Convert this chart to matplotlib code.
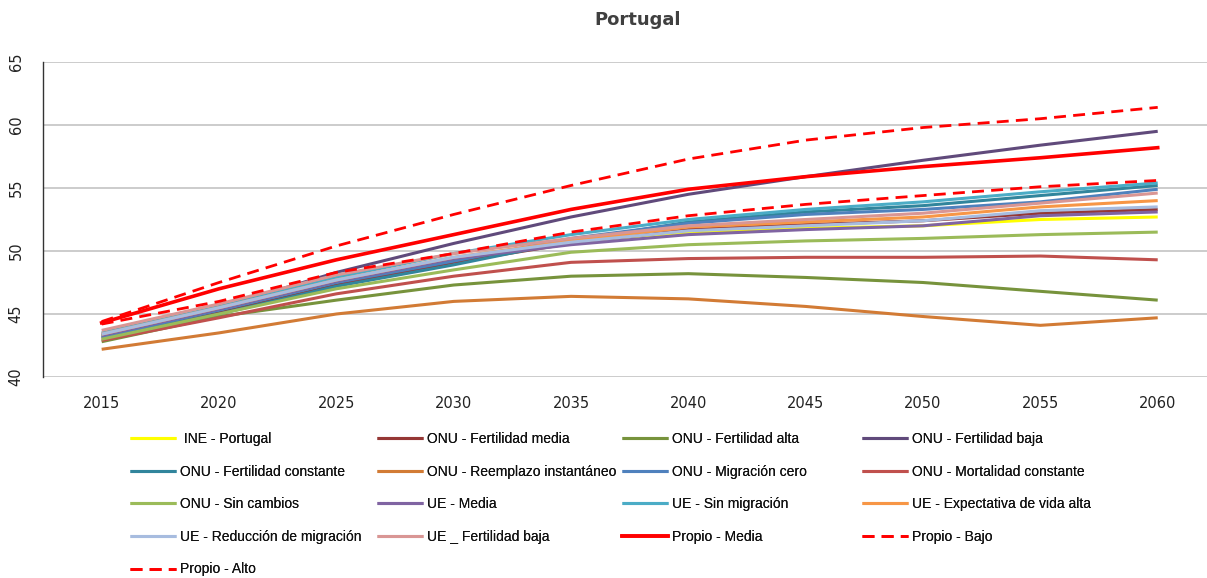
import matplotlib
matplotlib.use("Agg")
import matplotlib.pyplot as plt

years = ["2015", "2020", "2025", "2030", "2035", "2040", "2045", "2050", "2055", "2060"]

ine_portugal         = [43.3, 45.3, 47.6, 49.4, 50.7, 51.5, 51.8, 52.0, 52.5, 52.7]
onu_fert_media       = [43.1, 45.1, 47.3, 49.1, 50.6, 51.7, 52.1, 52.4, 53.0, 53.3]
onu_fert_alta        = [42.8, 44.8, 46.1, 47.3, 48.0, 48.2, 47.9, 47.5, 46.8, 46.1]
onu_fert_baja        = [43.4, 45.5, 48.3, 50.6, 52.7, 54.5, 55.9, 57.2, 58.4, 59.5]
onu_fert_constante   = [43.1, 45.0, 47.2, 48.9, 50.8, 52.3, 53.1, 53.6, 54.4, 55.2]
onu_reemplazo        = [42.2, 43.5, 45.0, 46.0, 46.4, 46.2, 45.6, 44.8, 44.1, 44.7]
onu_migracion_cero   = [43.2, 45.3, 47.5, 49.2, 51.0, 52.2, 52.9, 53.3, 53.9, 54.9]
onu_mortalidad_const = [42.9, 44.7, 46.6, 48.0, 49.1, 49.4, 49.5, 49.5, 49.6, 49.3]
onu_sin_cambios      = [43.0, 45.0, 47.0, 48.5, 49.9, 50.5, 50.8, 51.0, 51.3, 51.5]
ue_media             = [43.3, 45.4, 47.6, 49.4, 50.5, 51.3, 51.7, 52.0, 52.8, 53.1]
ue_sin_migracion     = [43.5, 45.6, 47.9, 49.8, 51.3, 52.5, 53.3, 53.9, 54.7, 55.4]
ue_expectativa_alta  = [43.4, 45.5, 47.7, 49.5, 50.8, 51.9, 52.3, 52.7, 53.5, 54.0]
ue_reduccion_migr    = [43.4, 45.5, 47.7, 49.5, 50.7, 51.6, 52.0, 52.4, 53.2, 53.5]
ue_fert_baja         = [43.7, 45.8, 48.1, 49.8, 51.0, 52.0, 52.5, 53.0, 53.8, 54.6]
propio_media         = [44.3, 47.0, 49.3, 51.3, 53.3, 54.9, 55.9, 56.7, 57.4, 58.2]
propio_bajo          = [44.2, 46.0, 48.3, 49.8, 51.5, 52.8, 53.7, 54.4, 55.1, 55.6]
propio_alto          = [44.4, 47.5, 50.4, 52.9, 55.2, 57.3, 58.8, 59.8, 60.5, 61.4]

labels = [
    " INE - Portugal", "ONU - Fertilidad media", "ONU - Fertilidad alta", "ONU - Fertilidad baja",
    "ONU - Fertilidad constante", "ONU - Reemplazo instantáneo", "ONU - Migración cero", "ONU - Mortalidad constante",
    "ONU - Sin cambios", "UE - Media", "UE - Sin migración", "UE - Expectativa de vida alta",
    "UE - Reducción de migración", "UE _ Fertilidad baja", "Propio - Media", "Propio - Bajo",
    "Propio - Alto",
]
series = [
    ine_portugal, onu_fert_media, onu_fert_alta, onu_fert_baja,
    onu_fert_constante, onu_reemplazo, onu_migracion_cero, onu_mortalidad_const,
    onu_sin_cambios, ue_media, ue_sin_migracion, ue_expectativa_alta,
    ue_reduccion_migr, ue_fert_baja, propio_media, propio_bajo, propio_alto,
]
colors = [
    "#FFFF00", "#953735", "#77933C", "#604A7B",
    "#31859C", "#D27B35", "#4F81BD", "#C0504D",
    "#9BBB59", "#8064A2", "#4BACC6", "#F79646",
    "#A7BCDF", "#D99694", "#FF0000", "#FF0000", "#FF0000",
]
styles = ["-"] * 15 + ["--", "--"]

fig = plt.figure(figsize=(12.07, 5.78), dpi=100)
ax = fig.add_axes([43 / 1207, 1 - 377 / 578, (1207 - 43) / 1207, (377 - 62) / 578])

x = list(range(len(years)))
handles = []
for i, (s, c, ls, lab) in enumerate(zip(series, colors, styles, labels)):
    if ls == "--":
        h, = ax.plot(x, s, color=c, lw=2.0, linestyle=(0, (4.3, 2.6)), label=lab, zorder=3 + i)
    elif i == 14:
        h, = ax.plot(x, s, color=c, lw=2.6, label=lab, zorder=3 + i)
    else:
        h, = ax.plot(x, s, color=c, lw=2.2, label=lab, zorder=3 + i, solid_capstyle="butt")
    handles.append(h)

ax.set_xlim(-0.5, 9.42)
ax.set_ylim(40, 65)
ax.set_yticks([40, 45, 50, 55, 60, 65])
ax.set_xticks(x)
ax.set_xticklabels(years, fontsize=10.5, color="#222222")
ax.set_yticklabels(["40", "45", "50", "55", "60", "65"], fontsize=10.5, color="#222222", rotation=90, va="center")
ax.tick_params(axis="both", length=0)
ax.tick_params(axis="x", pad=14)
ax.tick_params(axis="y", pad=14)
ax.yaxis.grid(True, color="#BFBFBF", lw=1.1)
ax.set_axisbelow(True)
for sp in ["top", "right", "bottom"]:
    ax.spines[sp].set_visible(False)
ax.spines["left"].set_color("#333333")
ax.spines["left"].set_linewidth(1.0)

fig.text(638 / 1207, 1 - 20 / 578, "Portugal", ha="center", va="center",
         fontsize=13, fontweight="bold", color="#404040")

col_x = [130, 377, 622, 862]
for c in range(4):
    idx = list(range(c, len(labels), 4))
    leg = fig.legend([handles[k] for k in idx], [labels[k] for k in idx],
                     loc="upper left", bbox_to_anchor=(col_x[c] / 1207, 1 - 432 / 578),
                     frameon=False, borderpad=0, borderaxespad=0, handlelength=3.3,
                     handletextpad=0.3, labelspacing=1.34,
                     prop={"family": "Liberation Sans", "size": 10})
    for t in leg.get_texts():
        t.set_color("#111111")
    fig.add_artist(leg)

fig.savefig("out.png", dpi=100, facecolor="white")
